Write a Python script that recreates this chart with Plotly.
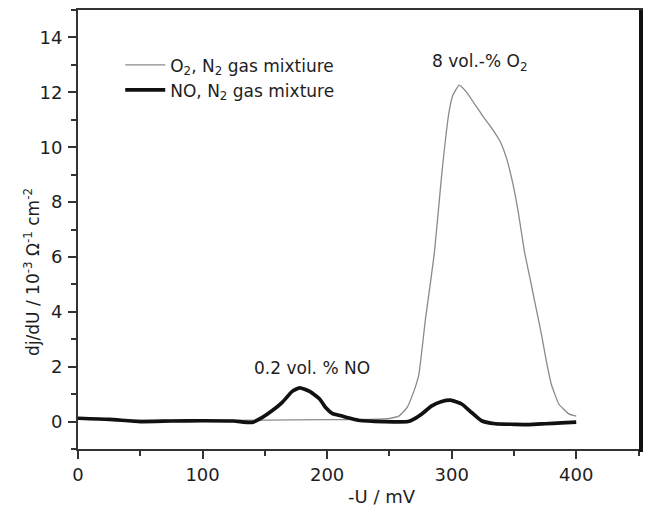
import plotly.graph_objects as go

# O2, N2 gas mixture curve
o2_x = [0, 20, 50, 100, 150, 200, 230, 250, 257.6, 264, 269.6, 273.6, 279, 286, 292, 297.6, 301, 306, 312,
        324, 332, 339, 344, 349, 353.6, 358.4, 363, 367, 372, 376, 380, 386, 394, 400]
o2_y = [0.12, 0.1, 0.05, 0.04, 0.05, 0.07, 0.08, 0.12, 0.2, 0.5, 1.1, 1.7, 3.75, 6.1, 9.0, 11.2, 11.9, 12.26, 12.0,
        11.2, 10.7, 10.2, 9.6, 8.7, 7.6, 6.2, 5.2, 4.3, 3.2, 2.2, 1.36, 0.64, 0.28, 0.2]

# NO, N2 gas mixture curve
no_x = [0, 25, 50, 75, 100, 125, 140, 148, 156, 164, 172, 178, 186, 194, 199, 204, 212, 220, 226, 245,
        265, 270, 276, 284, 292, 299, 308, 316, 324, 335, 350, 362, 375, 388, 400]
no_y = [0.12, 0.08, 0.0, 0.02, 0.03, 0.02, -0.03, 0.15, 0.4, 0.7, 1.1, 1.23, 1.1, 0.82, 0.5, 0.3, 0.2, 0.1, 0.04, 0.0,
        0.0, 0.1, 0.28, 0.57, 0.73, 0.78, 0.64, 0.33, 0.03, -0.08, -0.1, -0.11, -0.08, -0.05, -0.02]

x_ticks = [0, 100, 200, 300, 400]
y_ticks = [0, 2, 4, 6, 8, 10, 12, 14]

FONT = "DejaVu Sans, sans-serif"
TXT = "#1e1e1e"

fig = go.Figure()
fig.add_trace(go.Scatter(x=o2_x, y=o2_y, mode="lines",
                         line=dict(color="#8a8a8a", width=1.3, shape="spline", smoothing=0.4),
                         name="O<sub>2</sub>, N<sub>2</sub> gas mixtiure"))
fig.add_trace(go.Scatter(x=no_x, y=no_y, mode="lines",
                         line=dict(color="#111111", width=3.7, shape="spline", smoothing=0.5),
                         name="NO, N<sub>2</sub> gas mixture"))

fig.add_annotation(x=322, y=13.1, text="8 vol.-% O<sub>2</sub>", showarrow=False,
                   font=dict(family=FONT, size=17, color=TXT))
fig.add_annotation(x=188, y=1.95, text="0.2 vol. % NO", showarrow=False,
                   font=dict(family=FONT, size=17, color=TXT))

# axis titles (placed as in the original, slightly off-centre)
fig.add_annotation(xref="paper", yref="paper", x=0.54, y=-0.109, text="-U / mV", showarrow=False,
                   xanchor="center", yanchor="middle", font=dict(family=FONT, size=18, color=TXT))
fig.add_annotation(xref="paper", yref="paper", x=-0.083, y=0.404,
                   text="dj/dU / 10<sup>-3</sup> Ω<sup>-1</sup> cm<sup>-2</sup>", showarrow=False,
                   textangle=-90, xanchor="center", yanchor="middle",
                   font=dict(family=FONT, size=17, color=TXT))

axis_common = dict(showgrid=False, zeroline=False, showline=True, linecolor="#333", linewidth=2,
                   mirror=True, ticks="outside", tickcolor="#333", tickwidth=2, ticklen=8,
                   tickfont=dict(family=FONT, size=18, color=TXT))

fig.update_xaxes(range=[0, 452], tickvals=x_ticks, ticklabelstandoff=0,
                 minor=dict(dtick=50, tick0=0, ticks="outside", ticklen=5, tickcolor="#333", tickwidth=2),
                 **axis_common)
fig.update_yaxes(range=[-1, 15], tickvals=y_ticks, ticklabelstandoff=2,
                 minor=dict(dtick=1, tick0=0, ticks="outside", ticklen=5, tickcolor="#333", tickwidth=2),
                 **axis_common)

# thicker right border (as in the scanned figure)
fig.add_shape(type="line", xref="paper", yref="paper", x0=1, x1=1, y0=-0.007, y1=1,
              line=dict(color="#111", width=4))

fig.update_layout(
    width=651, height=506,
    margin=dict(l=78, r=8, t=8, b=57),
    plot_bgcolor="white", paper_bgcolor="white",
    legend=dict(x=0.075, y=0.915, xanchor="left", yanchor="top", bgcolor="rgba(0,0,0,0)",
                font=dict(family=FONT, size=17, color=TXT), tracegroupgap=0, itemwidth=40),
    showlegend=True,
)

fig.write_html("out.html")
